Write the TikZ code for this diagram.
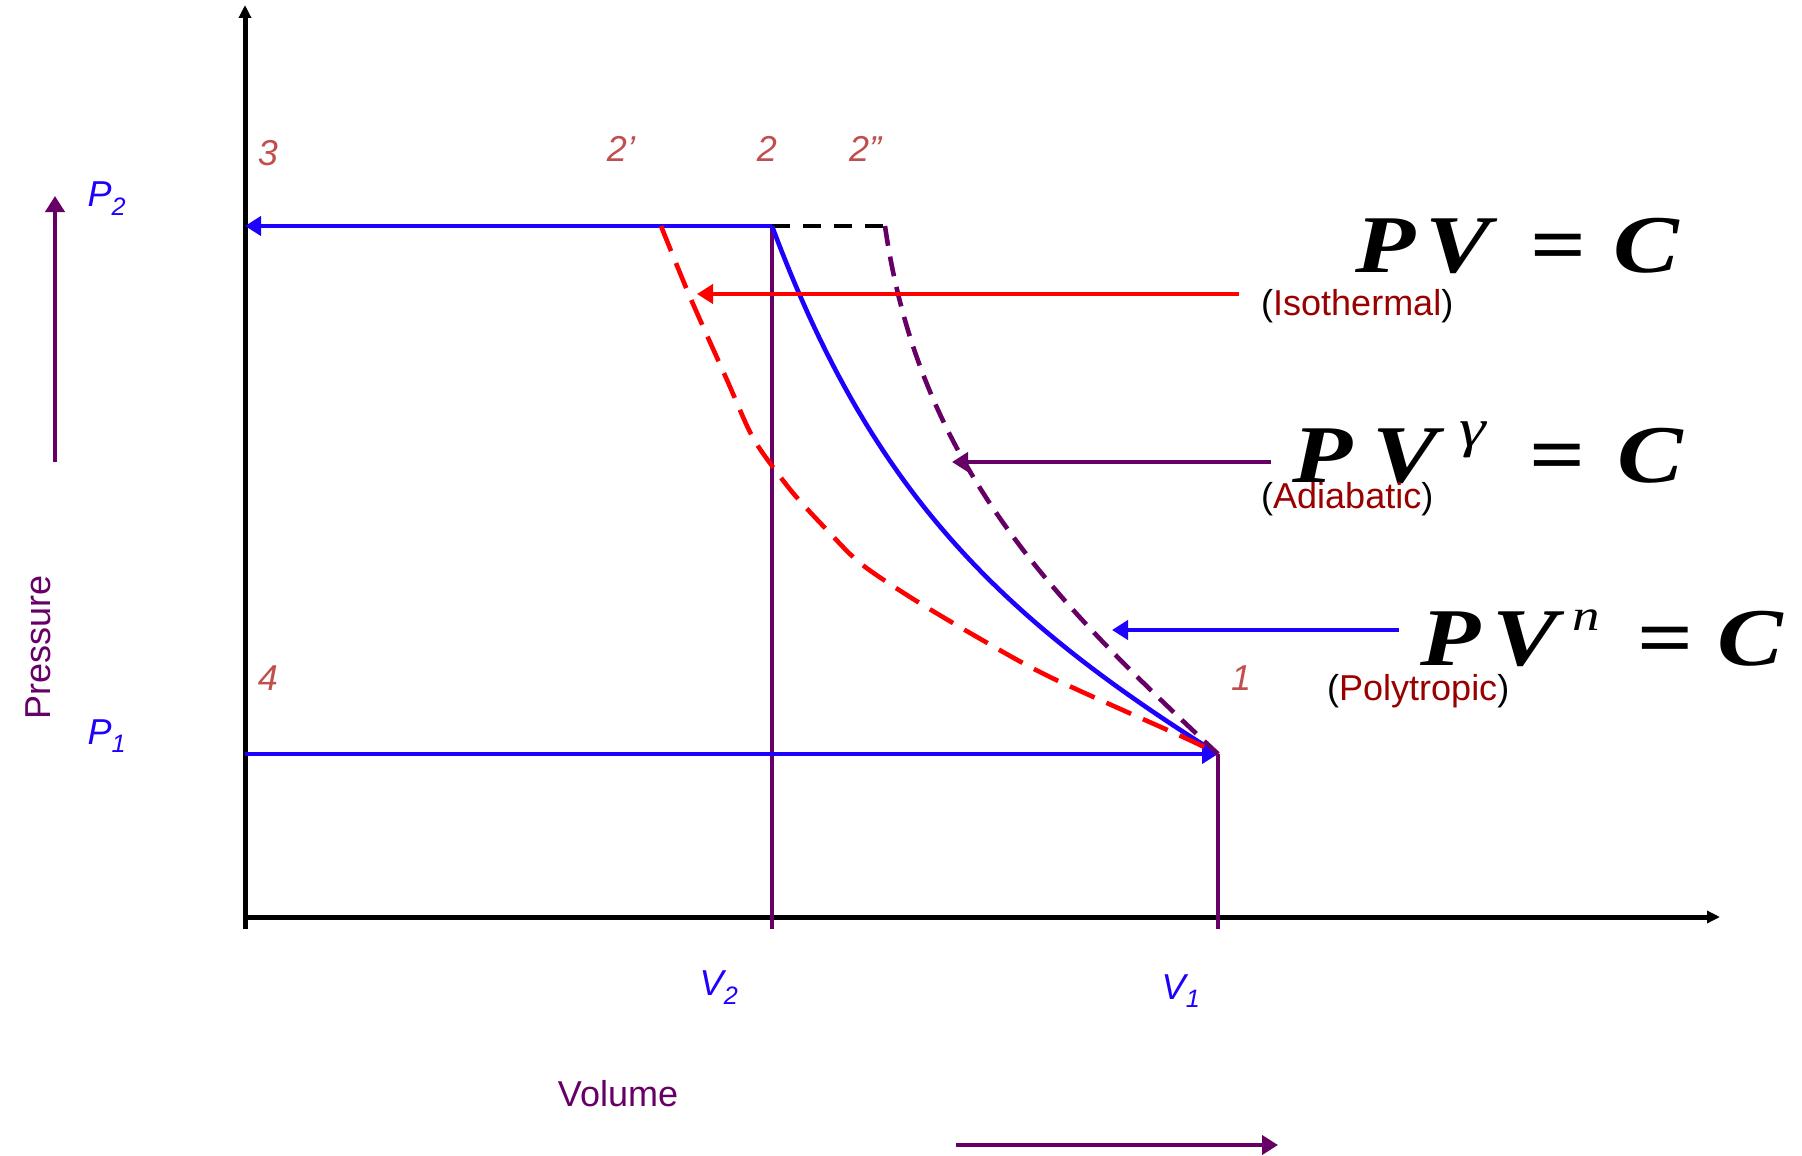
\documentclass[tikz,border=0pt]{standalone}
\usepackage{fontspec}
\setmainfont{Liberation Sans}
\newfontfamily\eqfont[FakeStretch=1.2]{Liberation Serif}
\newfontfamily\supfont[FakeStretch=1.25]{Liberation Serif}
\usetikzlibrary{arrows.meta}
\definecolor{cblue}{RGB}{30,0,255}
\definecolor{cpurple}{RGB}{102,0,102}
\definecolor{cred}{RGB}{255,0,0}
\definecolor{cbrown}{RGB}{192,80,77}
\definecolor{cdark}{RGB}{153,0,0}
\begin{document}
\begin{tikzpicture}[x=1pt,y=-1pt,
  axis/.style={line width=5pt,black},
  bline/.style={line width=4.6pt,cblue},
  pline/.style={line width=4.6pt,cpurple},
  rline/.style={line width=4.6pt,cred},
  tipb/.style={-{Triangle[length=16pt,width=19pt]}},
  tipa/.style={-{Triangle[length=13pt,width=12pt]}},
  ptlabel/.style={font=\fontsize{36}{42}\selectfont\itshape,text=cbrown,inner sep=0},
  vlabel/.style={font=\fontsize{36}{42}\selectfont\itshape,text=cblue,inner sep=0},
  axlabel/.style={font=\fontsize{36}{43}\selectfont,text=cpurple,inner sep=0},
  tlabel/.style={font=\fontsize{36}{43}\selectfont,text=cdark,inner sep=0,anchor=west},
  eqn/.style={font=\fontsize{82}{100}\selectfont\eqfont\bfseries\itshape,inner sep=0,anchor=base west}]
\useasboundingbox (0,0) rectangle (1802,1156);

% key points
\coordinate (O) at (245,917);
\coordinate (ytop) at (245,5);
\coordinate (ybot) at (245,929);
\coordinate (xend) at (1720,917);
\coordinate (p1) at (1218,754);
\coordinate (p2) at (772,226);
\coordinate (p3) at (245,226);
\coordinate (p4) at (245,754);
\coordinate (p2a) at (661,226);
\coordinate (p2b) at (885,226);
\coordinate (v2b) at (772,929);
\coordinate (v1b) at (1218,929);

% axes
\draw[axis,tipa] (ybot) -- (ytop);
\draw[axis,tipa] (O) -- (xend);

% vertical volume lines
\draw[pline] (p2) -- (v2b);
\draw[pline] (p1) -- (v1b);

% horizontal process lines
\draw[bline,tipb] (p2) -- (p3);
\draw[bline,tipb] (p4) -- (p1);
\draw[line width=4.6pt,black,dash pattern=on 18pt off 13pt] (p2) -- (p2b);

% compression curves
\draw[bline] (p2) .. controls (870,489) and (997,616) .. (p1);
\draw[rline,dash pattern=on 27pt off 13pt] plot[smooth,tension=0.5] coordinates {(p2a) (690,297) (727,380) (748,428) (762,452) (793,493) (827,530) (860,563) (910,597) (977,637) (1050,677) (1183,737) (p1)};
\draw[pline,dash pattern=on 20pt off 11pt] (p2b) .. controls (920,470) and (1060,606) .. (p1);

% pointer arrows
\coordinate (isoS) at (1239,294);
\coordinate (isoT) at (697,294);
\coordinate (adiS) at (1271,462);
\coordinate (adiT) at (952,462);
\coordinate (polS) at (1399,630);
\coordinate (polT) at (1112,630);
\draw[rline,tipb] (isoS) -- (isoT);
\draw[pline,tipb] (adiS) -- (adiT);
\draw[bline,tipb] (polS) -- (polT);

% direction arrows
\coordinate (pa1) at (55,462);
\coordinate (pa2) at (55,196);
\coordinate (va1) at (956,1145);
\coordinate (va2) at (1278,1145);
\draw[pline,tipb] (pa1) -- (pa2);
\draw[pline,tipb] (va1) -- (va2);

% point labels
\node[ptlabel] (l3) at (268,153) {3};
\node[ptlabel] (l2a) at (621,149) {2’};
\node[ptlabel] (l2) at (767,149) {2};
\node[ptlabel] (l2b) at (865,149) {2”};
\node[ptlabel] (l4) at (268,678) {4};
\node[ptlabel] (l1) at (1241,678) {1};

% P and V labels
\node[vlabel] (P2) at (107,199) {P\textsubscript{2}};
\node[vlabel] (P1) at (107,736) {P\textsubscript{1}};
\node[vlabel] (V2) at (719,988) {V\textsubscript{2}};
\node[vlabel] (V1) at (1181,991) {V\textsubscript{1}};

% axis titles
\node[axlabel,rotate=90] (pres) at (38,647) {Pressure};
\node[axlabel] (vol) at (618,1094) {Volume};

% equations
\node[eqn] (eqiso) at (1355,272) {\makebox[70pt][l]{P}\makebox[105pt][l]{V}\makebox[83pt][l]{\upshape =}C};
\node[eqn] (eqadi) at (1292,482) {\makebox[80pt][l]{P}\makebox[87pt][l]{V}\makebox[70pt][l]{\raisebox{36pt}{\supfont\mdseries\fontsize{54}{58}\selectfont\itshape γ}}\makebox[88pt][l]{\upshape =}C};
\node[eqn] (eqpol) at (1420,665) {\makebox[72pt][l]{P}\makebox[80pt][l]{V}\makebox[65pt][l]{\raisebox{35pt}{\supfont\mdseries\fontsize{44}{50}\selectfont\itshape n}}\makebox[80pt][l]{\upshape =}C};

% process names
\node[tlabel] (iso) at (1261,306) {\textcolor{black}{(}Isothermal\textcolor{black}{)}};
\node[tlabel] (adi) at (1261,499) {\textcolor{black}{(}Adiabatic\textcolor{black}{)}};
\node[tlabel] (pol) at (1327,691) {\textcolor{black}{(}Polytropic\textcolor{black}{)}};
\end{tikzpicture}
\end{document}
